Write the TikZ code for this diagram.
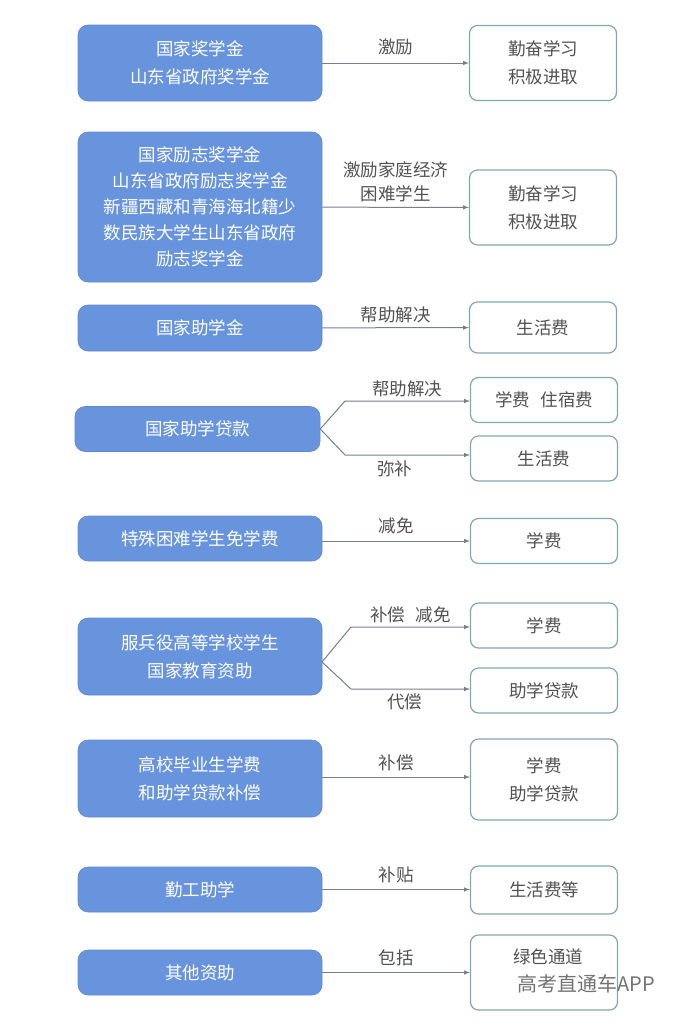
\documentclass[tikz,border=0pt]{standalone}
\usepackage{fontspec}
\newfontfamily\cjk{Noto Sans CJK SC}
\usepackage{tikz}
\usetikzlibrary{arrows, positioning}
\definecolor{boxblue}{RGB}{104,148,221}
\definecolor{edgegray}{RGB}{118,128,138}
\definecolor{rimteal}{RGB}{128,168,178}
\definecolor{txtgray}{RGB}{82,82,82}

\begin{document}
\begin{tikzpicture}[
    x=1pt, y=-1pt,
    every node/.style={font=\cjk\fontsize{17.5}{28}\selectfont, align=center},
    src/.style={fill=boxblue, draw=boxblue!92!black, line width=0.6pt, rounded corners=10pt,
                text=white, minimum width=244pt, inner sep=0pt},
    dst/.style={draw=rimteal, line width=1.2pt, fill=white, rounded corners=8pt,
                text=txtgray, minimum width=147pt, inner sep=0pt},
    lbl/.style={text=txtgray, inner sep=0pt},
    link/.style={draw=edgegray, -latex, line width=1pt}
]
    \useasboundingbox (0,0) rectangle (688,1023);

    % Scholarships
    \node[src, minimum height=76pt] (gjjxj) at (200,63) {国家奖学金\\山东省政府奖学金};
    \node[dst, minimum height=75pt] (qfxx) at (543,63) {勤奋学习\\积极进取};
    \draw[link] (gjjxj) -- node[lbl, above=7pt] {激励} (qfxx);

    \node[src, minimum height=150pt, font=\cjk\fontsize{17.5}{26}\selectfont] (lzjxj) at (200,207)
        {国家励志奖学金\\山东省政府励志奖学金\\新疆西藏和青海海北籍少\\数民族大学生山东省政府\\励志奖学金};
    \node[dst, minimum height=75pt] (qfxxb) at (543,207.5) {勤奋学习\\积极进取};
    \draw[link] (lzjxj) -- node[lbl, above=5pt, font=\cjk\fontsize{17.5}{24}\selectfont]
        {激励家庭经济\\困难学生} (qfxxb);

    % Grants and loans
    \node[src, minimum height=46pt] (zxj) at (200,328) {国家助学金};
    \node[dst, minimum height=51pt] (shf) at (543,327.5) {生活费};
    \draw[link] (zxj) -- node[lbl, above=4pt] {帮助解决} (shf);

    \node[src, minimum height=45pt, minimum width=245pt] (zxdk) at (197.5,429) {国家助学贷款};
    \node[dst, minimum height=45pt] (xfzsf) at (544,400) {学费\hspace{0.6em}住宿费};
    \node[dst, minimum height=45pt] (shfb) at (544,458.5) {生活费};
    \coordinate (zxdk-up) at (345,401);
    \coordinate (zxdk-dn) at (345,455);
    \draw[link] (zxdk.east) -- (zxdk-up) -- node[lbl, above=4pt] {帮助解决} (zxdk-up -| xfzsf.west);
    \draw[link] (zxdk.east) -- (zxdk-dn) -- node[lbl, below=5pt, pos=0.4] {弥补} (zxdk-dn -| shfb.west);

    \node[src, minimum height=45pt] (mxf) at (200,538.5) {特殊困难学生免学费};
    \node[dst, minimum height=45pt] (xf) at (544,541) {学费};
    \draw[link] (mxf.east |- xf) -- node[lbl, above=7pt] {减免} (xf);

    % Military service
    \node[src, minimum height=77pt] (fby) at (200,656.5) {服兵役高等学校学生\\国家教育资助};
    \node[dst, minimum height=45pt] (xfb) at (544,625.5) {学费};
    \node[dst, minimum height=45pt] (zxdkb) at (544,690.5) {助学贷款};
    \coordinate (fby-mid) at (322,662);
    \coordinate (fby-up) at (351,627);
    \coordinate (fby-dn) at (351,689);
    \draw[link] (fby-mid) -- (fby-up) -- node[lbl, above=4pt] {补偿\hspace{0.6em}减免} (fby-up -| xfb.west);
    \draw[link] (fby-mid) -- (fby-dn) -- node[lbl, below=4pt, pos=0.45] {代偿} (fby-dn -| zxdkb.west);

    \node[src, minimum height=77pt] (bych) at (200,778.5) {高校毕业生学费\\和助学贷款补偿};
    \node[dst, minimum height=81pt] (xfdk) at (544,779.5) {学费\\助学贷款};
    \draw[link] (bych.east |- 0,777) -- node[lbl, above=6pt] {补偿} (xfdk.west |- 0,777);

    % Work-study and others
    \node[src, minimum height=45pt] (qgzx) at (200,889.5) {勤工助学};
    \node[dst, minimum height=48pt] (shfd) at (544,890) {生活费等};
    \draw[link] (qgzx) -- node[lbl, above=6pt] {补贴} (shfd.west |- qgzx);

    \node[src, minimum height=45pt] (qtzz) at (200,972.5) {其他资助};
    \node[dst, minimum height=75pt] (lstd) at (544,972.5) {};
    \node[lbl] (lstd-t) at (548,957) {绿色通道};
    \draw[link] (qtzz) -- node[lbl, above=6pt] {包括} (lstd);
    \node[lbl, text=black!55, font=\cjk\fontsize{20}{24}\selectfont] (mark) at (586,984) {高考直通车APP};
\end{tikzpicture}
\end{document}
